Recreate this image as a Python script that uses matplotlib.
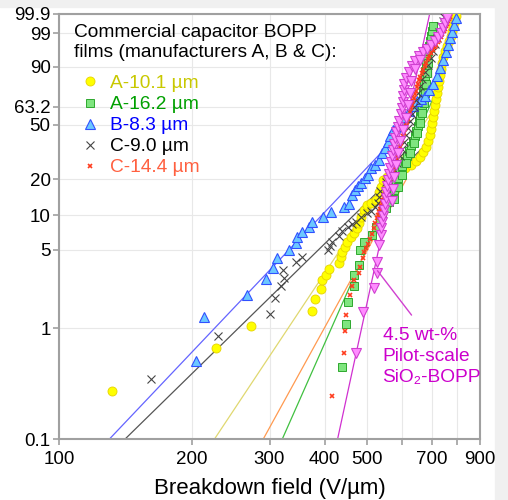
import numpy as np
import matplotlib
matplotlib.use('Agg')
import matplotlib.pyplot as plt
from matplotlib.lines import Line2D
from matplotlib.patches import Rectangle
from matplotlib.ticker import NullLocator

plt.rcParams['font.family'] = ['Liberation Sans', 'DejaVu Sans']

# ---------------- data (breakdown field V/um, cumulative probability %) ----------------
a101_E = [131.7, 227.5, 272.7, 375.3, 379.9, 393.4, 395.5, 402.4, 409.4, 431.4, 435.1, 439.0, 444.4, 449.0,
          458.5, 466.4, 474.8, 478.8, 483.1, 491.7, 498.5, 509.0, 522.5, 531.6, 536.3, 541.2,
          553.4, 571.0, 589.5, 608.1, 627.5, 644.1, 657.6, 668.0, 678.6, 685.7, 693.0, 696.6, 700.2,
          703.9, 707.6, 711.4, 715.1, 718.9, 722.6, 726.4, 730.2, 734.0, 737.8, 741.7, 749.5, 757.4,
          765.3, 773.4, 777.5, 781.5, 790.1, 794.3]
a101_F = [0.271, 0.657, 1.048, 1.429, 1.818, 2.220, 2.69, 2.977, 3.345, 3.828, 4.27, 4.79, 5.29, 5.86,
          6.40, 6.94, 7.67, 8.47, 9.65, 11.03, 12.14, 12.70, 13.41, 15.69, 17.25, 19.61,
          20.67, 21.86, 23.08, 24.43, 25.78, 27.63, 29.61, 32.27, 35.09, 38.71, 42.57, 46.64, 50.90,
          55.49, 60.02, 64.47, 69.16, 73.47, 77.75, 81.79, 85.47, 88.78, 91.60, 93.96, 95.81, 97.05,
          97.99, 98.69, 99.19, 99.52, 99.73, 99.86]

a162_E = [437.4, 446.7, 452.1, 466.4, 465.1, 478.8, 480.6, 490.7, 511.7, 522.5, 533.5, 539.1, 550.5, 559.2,
          566.8, 574.0, 580.1, 586.2, 592.6, 598.8, 608.1, 614.5, 621.0, 627.5, 634.1, 640.7, 644.1, 650.9,
          654.2, 657.6, 661.1, 664.6, 664.6, 668.0, 668.0, 671.6, 671.6, 675.1, 675.1, 678.6, 678.6, 682.2,
          685.7, 689.3, 693.0, 696.6, 700.2, 703.9,
          574.0, 586.2, 598.8, 611.3, 624.2, 637.4, 647.5, 657.6, 664.6, 671.6, 675.1, 678.6, 682.2, 685.7]
a162_F = [0.443, 1.085, 1.720, 2.375, 2.977, 3.65, 4.96, 5.82, 6.70, 7.87, 8.86, 9.98, 11.45, 12.87,
          14.45, 16.25, 18.15, 20.35, 22.66, 25.27, 27.63, 30.11, 32.81, 35.68, 38.71, 42.02, 45.25, 48.89,
          52.36, 56.07, 60.02, 63.84, 67.65, 71.41, 74.93, 78.45, 81.79, 85.01, 87.70, 90.23, 92.43, 94.30,
          95.81, 97.05, 97.99, 98.69, 99.19, 99.52,
          13.64, 17.15, 21.46, 26.65, 31.80, 37.48, 43.90, 50.90, 58.34, 65.94, 73.47, 80.14, 86.60, 91.60]

b83_E = [204.5, 213.6, 267.1, 294.0, 305.9, 312.4, 332.0, 343.9, 345.7, 354.8, 368.0, 375.3, 396.1, 413.0,
         442.7, 453.7, 460.9, 468.1, 475.5, 483.1, 493.3, 501.1, 509.0, 519.8, 530.7, 539.1, 547.6, 556.3,
         562.1, 571.0, 583.1, 595.7, 608.1, 621.0, 634.1, 647.5, 661.1, 675.1, 689.3, 703.9, 718.9, 730.2,
         741.7, 753.4, 761.3, 769.4, 777.5, 786.0, 794.3]
b83_F = [0.506, 1.25, 1.975, 2.725, 3.48, 4.19, 4.96, 5.71, 6.44, 7.12, 7.87, 8.69, 9.69, 10.65,
         11.79, 12.55, 14.73, 16.25, 17.53, 18.55, 20.35, 21.51, 24.43, 25.78, 28.17, 31.80, 34.60, 38.19,
         42.02, 46.07, 48.89, 51.78, 55.49, 60.02, 63.84, 67.65, 69.16, 71.41, 75.80, 79.95, 85.01, 89.37,
         92.91, 95.61, 97.31, 98.47, 99.12, 99.58, 99.82]

c90_E = [161.3, 229.0, 300.6, 308.6, 317.9, 323.4, 322.1, 343.9, 354.8, 406.6, 410.8, 415.2, 430.6, 437.4,
         451.4, 460.9, 470.6, 483.1, 498.5, 509.0, 519.8, 528.0, 530.7, 533.5, 550.5, 562.1, 574.0, 583.1,
         592.6, 598.8, 605.0, 611.3, 617.7, 624.2, 630.8, 637.4, 644.1, 650.9, 657.6, 664.6, 675.1, 685.7,
         696.6, 703.9, 711.4, 718.9, 726.4, 734.0, 741.7, 745.6]
c90_F = [0.348, 0.850, 1.335, 1.856, 2.40, 2.80, 3.30, 3.88, 4.30, 4.96, 5.37, 5.82, 6.57, 7.26,
         7.87, 8.35, 8.69, 9.60, 10.38, 10.80, 11.68, 12.62, 14.18, 15.90, 18.84, 21.06, 23.56, 26.65,
         30.11, 33.93, 38.19, 42.57, 47.34, 52.36, 57.58, 62.91, 68.41, 73.47, 78.45, 83.05, 87.16, 90.68,
         93.58, 95.81, 97.45, 98.47, 99.12, 99.52, 99.73, 99.84]

c144_E = [415.2, 443.2, 444.4, 447.9, 457.3, 462.6, 465.7, 478.8, 481.3, 488.2, 490.7, 495.9, 501.1, 506.4,
          511.7, 517.1, 519.8, 525.2, 530.7, 536.3, 541.9, 547.6, 553.4, 559.2, 565.1, 571.0, 577.1, 583.1,
          589.5, 595.7, 601.9, 608.1, 614.5, 621.0, 627.5, 634.1, 640.7, 647.5, 654.2, 664.6, 675.1, 685.7,
          696.6, 711.4, 722.6, 734.0, 745.6, 753.4, 761.3, 769.4,
          528.0, 533.5, 539.1, 544.8, 550.5, 556.3, 562.1, 568.1, 574.0, 580.1, 586.2, 592.6, 598.8, 605.0,
          611.3, 617.7, 624.2, 630.8, 637.4, 644.1, 650.9, 659.4, 669.9, 680.4, 691.1, 703.9, 717.0, 728.5,
          740.0, 749.5, 757.4, 765.3]
c144_F = [0.244, 0.592, 0.945, 1.307, 1.995, 2.375, 2.69, 3.10, 3.51, 4.21, 4.76, 5.16, 5.59, 6.19,
          6.84, 7.71, 8.52, 9.41, 10.59, 11.91, 13.41, 15.02, 16.83, 18.84, 21.06, 23.56, 26.65, 29.61,
          33.46, 37.48, 42.02, 46.64, 51.78, 56.83, 62.15, 67.65, 72.72, 77.75, 82.56, 86.60, 90.23, 93.21,
          95.24, 96.83, 97.83, 98.57, 99.19, 99.52, 99.73, 99.84,
          9.98, 11.23, 12.62, 14.18, 15.90, 17.81, 19.93, 21.51, 25.05, 28.17, 31.45, 35.39, 39.66, 44.24,
          49.11, 54.21, 59.48, 64.83, 70.15, 75.29, 80.14, 84.60, 88.50, 91.81, 94.30, 96.16, 97.36, 98.23,
          98.91, 99.37, 99.64, 99.79]

sio2_E = [470.6, 489.1, 517.9, 525.2, 525.2, 531.6, 536.3, 537.7, 539.1, 541.9, 544.8, 547.6, 550.5, 551.9,
          553.4, 556.3, 559.2, 562.1, 565.1, 568.1, 571.0, 574.0, 577.1, 580.1, 586.2, 589.5, 595.7, 598.8,
          601.9, 603.5, 605.0, 606.6, 611.3, 621.0, 630.8, 640.7, 654.2, 668.0, 682.2, 696.6, 711.4, 722.6,
          734.0, 741.7, 749.5, 757.4,
          568.1, 571.0, 574.0, 580.1, 586.2, 592.6, 601.9, 611.3, 617.7, 624.2, 627.5, 640.7, 657.6]
sio2_F = [0.592, 1.399, 2.266, 3.08, 3.906, 5.48, 6.70, 7.71, 8.69, 9.79, 11.03, 12.38, 13.90, 15.60,
          17.53, 19.61, 21.86, 24.43, 27.13, 30.11, 33.46, 36.88, 40.62, 44.58, 48.04, 52.36, 57.58, 62.15,
          66.76, 71.41, 75.80, 79.95, 83.67, 87.16, 90.23, 92.43, 94.30, 95.61, 96.37, 97.31, 97.99, 98.57,
          99.01, 99.40, 99.66, 99.82,
          13.13, 16.52, 20.67, 25.78, 31.80, 38.71, 46.07, 54.59, 64.47, 73.47, 81.79, 88.78, 92.91]

# Weibull fit lines (low-field regime): scale alpha (V/um), shape beta, upper end of drawn line (%)
fit_alpha = [712, 691, 674, 830, 754, 623]
fit_beta = [6.0, 9.0, 4.2, 3.9, 7.24, 18.4]
fit_Fmax = [63.2, 80.0, 50.0, 35.0, 20.0, 99.9]

labels = ['A-10.1 µm', 'A-16.2 µm', 'B-8.3 µm', 'C-9.0 µm', 'C-14.4 µm']
x_ticks = [100, 200, 300, 400, 500, 600, 700, 800, 900]
x_ticklabels = ['100', '200', '300', '400', '500', '', '700', '', '900']
y_ticks = [0.1, 1, 5, 10, 20, 50, 63.2, 90, 99, 99.9]
y_ticklabels = ['0.1', '1', '5', '10', '20', '50', '63.2', '90', '99', '99.9']

# ---------------- styles ----------------
styles = [
    dict(marker='o', ms=6.5, mfc='#ffff00', mec='#e6d200', mew=0.6),
    dict(marker='s', ms=6.0, mfc='#7fe57f', mec='#2ea82e', mew=0.7),
    dict(marker='^', ms=6.5, mfc='#6cc8ff', mec='#3050ff', mew=0.8),
    dict(marker='x', ms=6.0, color='#444444', mew=0.8),
    dict(marker='x', ms=3.4, color='#ff3c1e', mew=1.2),
    dict(marker='v', ms=7.0, mfc='#ff8cff', mec='#d040d0', mew=0.8),
]
line_colors = ['#e0d870', '#40c040', '#6464ff', '#555555', '#ff9a50', '#d030d0']
text_colors = ['#c8c800', '#00a000', '#0000ff', '#000000', '#ff6040']


def fwd(p):
    p = np.clip(np.asarray(p, dtype=float), 1e-9, 100 - 1e-9)
    return np.log(-np.log(1 - p / 100.0))


def inv(w):
    return 100.0 * (1 - np.exp(-np.exp(np.asarray(w, dtype=float))))


fig = plt.figure(figsize=(5.08, 5.00), dpi=100, facecolor='white')
fig.patches.append(Rectangle((0, 493 / 500), 1, 7 / 500, transform=fig.transFigure,
                             color='#f0f0f0', zorder=-5))
fig.patches.append(Rectangle((495 / 508, 0), 13 / 508, 1, transform=fig.transFigure,
                             color='#f0f0f0', zorder=-5))
ax = fig.add_axes([59 / 508, 61 / 500, 421 / 508, 425 / 500])

ax.set_xscale('log')
ax.set_yscale('function', functions=(fwd, inv))

series = [(a101_E, a101_F), (a162_E, a162_F), (b83_E, b83_F),
          (c90_E, c90_F), (c144_E, c144_F), (sio2_E, sio2_F)]

# fit lines
wmin = fwd(0.1)
for a, b, fm, c in zip(fit_alpha, fit_beta, fit_Fmax, line_colors):
    w = np.linspace(wmin - 0.2, fwd(fm), 50)
    ax.plot(a * np.exp(w / b), inv(w), color=c, lw=0.9, zorder=2)

for (E, F), st in zip(series, styles):
    ax.plot(E, F, ls='none', zorder=3, **st)

ax.set_xlim(100, 900)
ax.set_ylim(0.1, 99.9)
ax.set_xticks(x_ticks)
ax.set_xticklabels(x_ticklabels)
ax.xaxis.set_minor_locator(NullLocator())
ax.set_yticks(y_ticks)
ax.set_yticklabels(y_ticklabels)
ax.yaxis.set_minor_locator(NullLocator())

ax.grid(True, color='#e8e8e8', lw=0.8)
ax.set_axisbelow(True)
for s in ax.spines.values():
    s.set_color('#a0a0a0')
    s.set_linewidth(1.5)
ax.tick_params(axis='both', colors='#a0a0a0', labelcolor='black', labelsize=13.5,
               length=4, width=1.2, pad=2)
ax.tick_params(axis='x', pad=4.5)
ax.set_xlabel('Breakdown field (V/µm)', fontsize=16, labelpad=7)

# legend
ax.text(0.036, 0.977, 'Commercial capacitor BOPP\nfilms (manufacturers A, B & C):',
        transform=ax.transAxes, ha='left', va='top', fontsize=13.8, linespacing=1.27)
handles = [Line2D([], [], ls='none', **st) for st in styles[:5]]
leg = ax.legend(handles, labels, loc='upper left', bbox_to_anchor=(0.036, 0.857),
                frameon=False, fontsize=13.8, borderpad=0, borderaxespad=0,
                handlelength=1.7, handletextpad=0.15, labelspacing=0.19,
                labelcolor=text_colors)

# annotation
ax.annotate('', xy=(522.5, 3.41), xytext=(635.2, 1.25),
            arrowprops=dict(arrowstyle='-', color='#d040d0', lw=1.0))
ax.text(541.2, 1.02, '4.5 wt-%\nPilot-scale\nSiO₂-BOPP', color='#cc00cc', fontsize=13.8,
        ha='left', va='top', linespacing=1.3)

fig.savefig('out.png', dpi=100, facecolor=fig.get_facecolor())
